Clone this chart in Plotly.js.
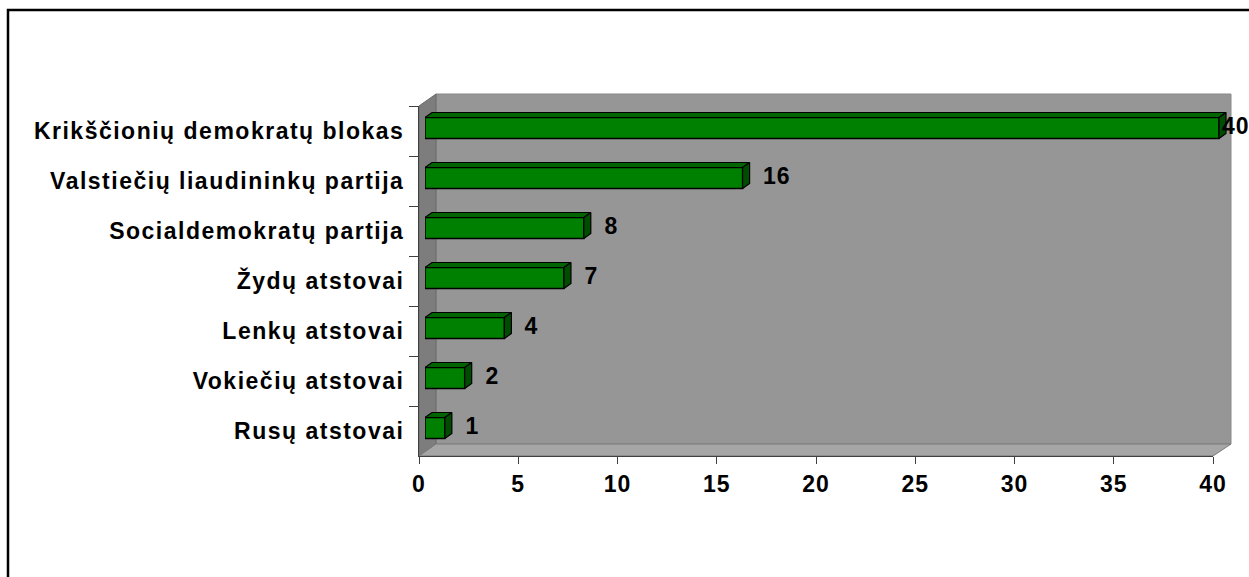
<!DOCTYPE html>
<html>
<head>
<meta charset="utf-8">
<script src="https://cdn.plot.ly/plotly-3.0.1.min.js"></script>
<style>
  html, body { margin: 0; padding: 0; background: #fff; }
  #chart { width: 1249px; height: 577px; }
  #chart .ytick text { letter-spacing: 1.5px; }
  #chart .xtick text { letter-spacing: 1px; }
  #chart .annotation-text { letter-spacing: 1px; }
</style>
</head>
<body>
<div id="chart"></div>
<script>
// ---- data ----
const categories = [
  "Krikščionių demokratų blokas",
  "Valstiečių liaudininkų partija",
  "Socialdemokratų partija",
  "Žydų atstovai",
  "Lenkų atstovai",
  "Vokiečių atstovai",
  "Rusų atstovai"
];
const seats = [40, 16, 8, 7, 4, 2, 1];
const xTickValues = [0, 5, 10, 15, 20, 25, 30, 35, 40];

// ---- layout geometry (pixels) ----
const W = 1249, H = 577;
const FONT = "Liberation Sans, Arial, Helvetica, sans-serif";
const frontX0 = 419, frontX1 = 1213;          // front plane: 0 .. 40
const frontYTop = 106, frontYBot = 456;
const wallDX = 17, wallDY = 12;                // depth of walls
const barDX = 6, barDY = 3;                    // bars sit a bit behind front plane
const pxPerUnit = (frontX1 - frontX0) / 40;
const pxPerCat = (frontYBot - frontYTop) / categories.length;
const barDepthX = 7, barDepthY = 5;            // depth of each bar (px)
const ox = barDepthX / pxPerUnit, oy = barDepthY / pxPerCat;
const barW = 0.42;
const x2Max = 41.2;

const px = x => x / W;
const py = y => 1 - y / H;
function pathPx(pts) {
  return pts.map((p, i) => (i ? "L" : "M") + px(p[0]).toFixed(5) + "," + py(p[1]).toFixed(5)).join(" ") + " Z";
}

const idx = categories.map((c, i) => i);

const traces = [];
// invisible trace to establish category axis
traces.push({
  type: "scatter", mode: "markers", x: seats, y: categories,
  xaxis: "x", yaxis: "y", marker: { opacity: 0 }, hoverinfo: "skip", showlegend: false
});
// front faces of bars
traces.push({
  type: "bar", orientation: "h", x: seats, y: idx, width: barW,
  xaxis: "x2", yaxis: "y2",
  marker: { color: "#008000", line: { color: "#000", width: 1.5 } },
  hoverinfo: "x", showlegend: false
});
// top and side faces
seats.forEach((v, i) => {
  const yTop = i - barW / 2, yBot = i + barW / 2;
  traces.push({
    type: "scatter", mode: "lines", xaxis: "x2", yaxis: "y2",
    x: [0, v, v + ox, ox, 0], y: [yTop, yTop, yTop - oy, yTop - oy, yTop],
    fill: "toself", fillcolor: "#006400", line: { color: "#000", width: 1.2 },
    hoverinfo: "skip", showlegend: false
  });
  traces.push({
    type: "scatter", mode: "lines", xaxis: "x2", yaxis: "y2",
    x: [v, v, v + ox, v + ox, v], y: [yTop, yBot, yBot - oy, yTop - oy, yTop],
    fill: "toself", fillcolor: "#004c00", line: { color: "#000", width: 1.2 },
    hoverinfo: "skip", showlegend: false
  });
});

// value labels
const annotations = seats.map((v, i) => {
  const endPx = frontX0 + barDX + v * pxPerUnit + barDepthX;
  let shift = 12;
  if (endPx + shift > 1221) shift = 1221 - endPx;
  return {
    xref: "x2", yref: "y2", x: v + ox, y: i - oy / 2,
    xanchor: "left", yanchor: "middle", xshift: shift,
    text: String(v), showarrow: false,
    font: { family: FONT, size: 23, color: "#000", weight: "bold" }
  };
});

const shapes = [
  // back wall
  { type: "path", xref: "paper", yref: "paper", layer: "below",
    path: pathPx([[frontX0 + wallDX, frontYTop - wallDY], [frontX1 + wallDX + 1, frontYTop - wallDY],
                  [frontX1 + wallDX + 1, frontYBot - wallDY], [frontX0 + wallDX, frontYBot - wallDY]]),
    fillcolor: "#969696", line: { color: "#8a8a8a", width: 1 } },
  // left wall
  { type: "path", xref: "paper", yref: "paper", layer: "below",
    path: pathPx([[frontX0, frontYTop], [frontX0 + wallDX, frontYTop - wallDY],
                  [frontX0 + wallDX, frontYBot - wallDY], [frontX0, frontYBot]]),
    fillcolor: "#7d7d7d", line: { color: "#6a6a6a", width: 1 } },
  // floor
  { type: "path", xref: "paper", yref: "paper", layer: "below",
    path: pathPx([[frontX0, frontYBot], [frontX0 + wallDX, frontYBot - wallDY],
                  [frontX1 + wallDX + 1, frontYBot - wallDY], [frontX1, frontYBot]]),
    fillcolor: "#a6a6a6", line: { color: "#7a7a7a", width: 1 } },
  // outer chart border
  { type: "rect", xref: "paper", yref: "paper", layer: "above",
    x0: px(8), x1: 1.05, y0: -0.05, y1: py(10),
    fillcolor: "rgba(0,0,0,0)", line: { color: "#000", width: 2.5 } }
];

const tickFont = { family: FONT, size: 23, color: "#000", weight: "bold" };

const layout = {
  width: W, height: H,
  margin: { l: 0, r: 0, t: 0, b: 0, pad: 0 },
  paper_bgcolor: "#ffffff",
  plot_bgcolor: "rgba(0,0,0,0)",
  showlegend: false,
  xaxis: {
    domain: [px(frontX0), px(frontX1)], anchor: "y", range: [0, 40],
    tickvals: xTickValues, ticktext: xTickValues.map(String),
    ticks: "outside", ticklen: 7, tickwidth: 1, tickcolor: "#404040",
    showline: true, linecolor: "#404040", linewidth: 1,
    showgrid: false, zeroline: false, tickfont: tickFont, fixedrange: true
  },
  yaxis: {
    domain: [py(frontYBot), py(frontYTop)], anchor: "x",
    type: "category", categoryorder: "array", categoryarray: categories,
    range: [categories.length - 0.5, -0.5],
    tickson: "boundaries", ticks: "outside", ticklen: 9, tickwidth: 1, tickcolor: "#404040",
    ticklabelstandoff: 9,
    showline: true, linecolor: "#404040", linewidth: 1,
    showgrid: false, zeroline: false, tickfont: tickFont, fixedrange: true
  },
  xaxis2: {
    domain: [px(frontX0 + barDX), px(frontX0 + barDX + x2Max * pxPerUnit)],
    anchor: "y2", range: [0, x2Max], visible: false, fixedrange: true
  },
  yaxis2: {
    domain: [py(frontYBot - barDY), py(frontYTop - barDY)],
    anchor: "x2", type: "linear", range: [categories.length - 0.5, -0.5],
    visible: false, fixedrange: true
  },
  shapes: shapes,
  annotations: annotations
};

Plotly.newPlot("chart", traces, layout, { displayModeBar: false, staticPlot: true });
</script>
</body>
</html>
